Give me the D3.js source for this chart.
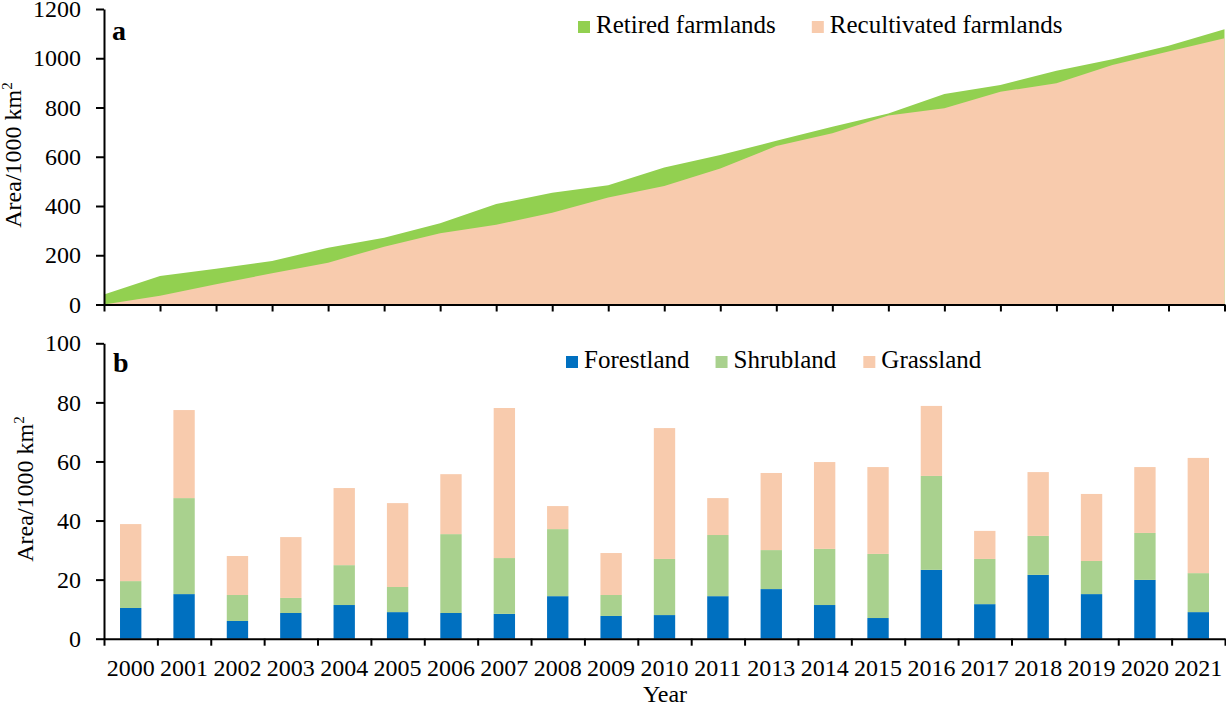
<!DOCTYPE html>
<html>
<head>
<meta charset="utf-8">
<script src="https://cdn.jsdelivr.net/npm/d3@7"></script>
<style>
  body { margin: 0; background: #fff; }
  svg { display: block; font-family: "Liberation Serif", "Times New Roman", serif; }
</style>
</head>
<body>
<svg id="chart" width="1226" height="704"></svg>
<script>
// Farmland change (a) and land-use composition of retired farmland (b).
const years = ['2000', '2001', '2002', '2003', '2004', '2005', '2006', '2007', '2008', '2009',
               '2010', '2011', '2013', '2014', '2015', '2016', '2017', '2018', '2019', '2020', '2021'];

// panel a, cumulative area (1000 km2)
const retired      = [41, 116, 145, 177, 230, 271, 330, 408, 454, 484, 556,
                      607, 665, 722, 776, 855, 891, 949, 996, 1051, 1118];
const recultivated = [0, 36, 82, 127, 170, 235, 289, 324, 373, 435, 481,
                      552, 644, 695, 768, 797, 864, 898, 973, 1027, 1081];

// panel b, yearly area by land cover (1000 km2)
const forest = [10.4, 15.1, 6.0, 8.7, 11.4, 9.0, 8.7, 8.4, 14.4, 7.7, 8.0,
                14.4, 16.8, 11.4, 7.0, 23.3, 11.7, 21.6, 15.1, 19.9, 9.0];
const shrub  = [9.1, 32.5, 8.8, 5.1, 13.5, 8.5, 26.7, 18.9, 22.7, 7.1, 19.0,
                20.7, 13.2, 19.0, 21.7, 31.8, 15.3, 13.2, 11.2, 15.9, 13.2];
const grass  = [19.3, 29.8, 13.2, 20.6, 26.1, 28.4, 20.3, 50.8, 7.8, 14.2, 44.3,
                12.5, 26.1, 29.4, 29.4, 23.7, 9.5, 21.6, 22.7, 22.3, 39.0];

const topTicks = [0, 200, 400, 600, 800, 1000, 1200];
const botTicks = [0, 20, 40, 60, 80, 100];

const GREEN = '#92d050', PEACH = '#f8cbad', BLUE = '#0070c0', LIGHTGREEN = '#a9d18e';
const SERIF = '"Liberation Serif", "Times New Roman", serif';

const svg = d3.select('#chart');
const left = 104, right = 1225;

function styleAxis(g) {
    g.attr('font-family', SERIF).attr('font-size', 24);
    g.select('.domain').attr('stroke', '#000').attr('stroke-width', 2);
    g.selectAll('.tick line').attr('stroke', '#000').attr('stroke-width', 2);
    g.selectAll('.tick text').attr('fill', '#000');
}

function yTitle(x, y) {
    const t = svg.append('text')
        .attr('transform', `translate(${x},${y}) rotate(-90)`)
        .attr('text-anchor', 'middle')
        .style('font-size', '24px');
    t.append('tspan').text('Area/1000 km');
    t.append('tspan').attr('dy', -9).style('font-size', '15px').text('2');
}

function legend(items, x0, y0) {
    let x = x0;
    items.forEach(it => {
        svg.append('rect').attr('x', x).attr('y', y0 - 12)
            .attr('width', 12).attr('height', 12).attr('fill', it.color);
        const t = svg.append('text').attr('x', x + 18).attr('y', y0)
            .style('font-size', '25px').text(it.name);
        x += 18 + t.node().getComputedTextLength() + it.gap;
    });
}

// ---------- panel a ----------
const xa = d3.scalePoint().domain(years).range([left, 1224.5]);
const ya = d3.scaleLinear().domain([0, 1200]).range([304.5, 9]);

const areaOf = vals => d3.area()
    .x((d, i) => xa(years[i]))
    .y0(ya(0))
    .y1(d => ya(d))(vals);

svg.append('path').attr('d', areaOf(retired)).attr('fill', GREEN);
svg.append('path').attr('d', areaOf(recultivated)).attr('fill', PEACH);

svg.append('g').attr('transform', `translate(0,${ya(0)})`)
    .call(d3.axisBottom(xa).tickSize(7).tickSizeOuter(0).tickFormat(''))
    .call(styleAxis);
svg.append('g').attr('transform', `translate(${left},0)`)
    .call(d3.axisLeft(ya).tickValues(topTicks).tickFormat(d3.format('d'))
        .tickSize(8).tickSizeOuter(0).tickPadding(15))
    .call(styleAxis);

yTitle(21, 155);
svg.append('text').attr('x', 112).attr('y', 40)
    .style('font-size', '28px').style('font-weight', 'bold').text('a');
legend([{ name: 'Retired farmlands', color: GREEN, gap: 36 },
        { name: 'Recultivated farmlands', color: PEACH, gap: 0 }], 578, 33);

// ---------- panel b ----------
const xb = d3.scaleBand().domain(years).range([left, right])
    .paddingInner(0.6).paddingOuter(0.3);
const yb = d3.scaleLinear().domain([0, 100]).range([638.7, 343.3]);

const rows = years.map((y, i) => ({ year: y, forest: forest[i], shrub: shrub[i], grass: grass[i] }));
const series = d3.stack().keys(['forest', 'shrub', 'grass'])(rows);
const colors = { forest: BLUE, shrub: LIGHTGREEN, grass: PEACH };

svg.append('g').selectAll('g')
    .data(series)
    .join('g')
    .attr('fill', s => colors[s.key])
    .selectAll('rect')
    .data(s => s)
    .join('rect')
    .attr('x', d => xb(d.data.year))
    .attr('width', xb.bandwidth())
    .attr('y', d => yb(d[1]))
    .attr('height', d => yb(d[0]) - yb(d[1]));

// tick marks at the band boundaries
const xEdge = d3.scaleLinear().domain([0, years.length]).range([left, right]);
svg.append('g').attr('transform', `translate(0,${yb(0)})`)
    .call(d3.axisBottom(xEdge).tickValues(d3.range(years.length + 1))
        .tickSize(7).tickSizeOuter(0).tickFormat(''))
    .call(styleAxis);
svg.append('g').attr('transform', `translate(0,${yb(0)})`)
    .call(d3.axisBottom(xb).tickSize(0).tickPadding(20))
    .call(styleAxis)
    .call(g => g.select('.domain').remove());
svg.append('g').attr('transform', `translate(${left},0)`)
    .call(d3.axisLeft(yb).tickValues(botTicks).tickSize(8).tickSizeOuter(0).tickPadding(15))
    .call(styleAxis);

yTitle(33, 489);
svg.append('text').attr('x', 665).attr('y', 702).attr('text-anchor', 'middle')
    .style('font-size', '24px').text('Year');
svg.append('text').attr('x', 113).attr('y', 372)
    .style('font-size', '28px').style('font-weight', 'bold').text('b');
legend([{ name: 'Forestland', color: BLUE, gap: 26 },
        { name: 'Shrubland', color: LIGHTGREEN, gap: 27 },
        { name: 'Grassland', color: PEACH, gap: 0 }], 566, 368);
</script>
</body>
</html>
